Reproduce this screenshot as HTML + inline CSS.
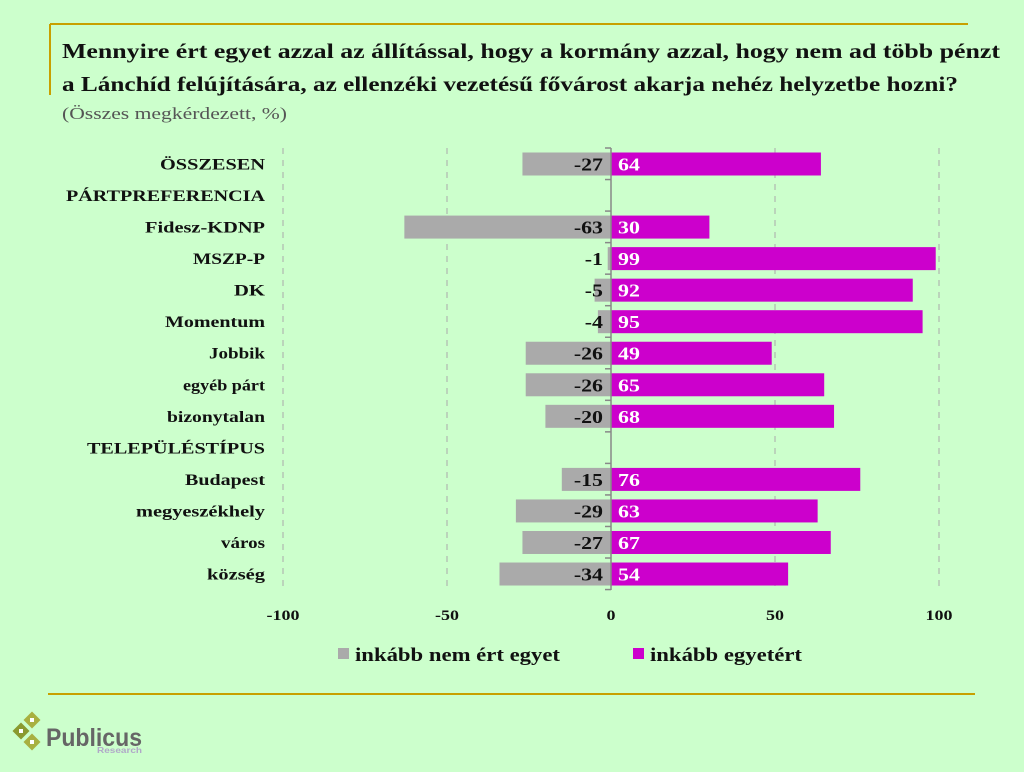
<!DOCTYPE html><html><head><meta charset="utf-8"><style>body{margin:0;background:#ccffcc}svg{display:block}</style></head><body>
<svg width="1024" height="772" xmlns="http://www.w3.org/2000/svg" font-family="Liberation Serif, serif">
<rect width="1024" height="772" fill="#ccffcc"/>
<line x1="50" y1="24" x2="968" y2="24" stroke="#c8a000" stroke-width="2"/>
<line x1="50" y1="24" x2="50" y2="95" stroke="#c8a000" stroke-width="2"/>
<line x1="48" y1="694" x2="975" y2="694" stroke="#c8a000" stroke-width="2"/>
<text x="62" y="58" font-size="21" font-weight="bold" fill="#111" textLength="938" lengthAdjust="spacingAndGlyphs">Mennyire ért egyet azzal az állítással, hogy a kormány azzal, hogy nem ad több pénzt</text>
<text x="62" y="91" font-size="21" font-weight="bold" fill="#111" textLength="896" lengthAdjust="spacingAndGlyphs">a Lánchíd felújítására, az ellenzéki vezetésű fővárost akarja nehéz helyzetbe hozni?</text>
<text x="62" y="119" font-size="17" fill="#555" textLength="225" lengthAdjust="spacingAndGlyphs">(Összes megkérdezett, %)</text>
<g stroke="#aaa" stroke-dasharray="6,6" stroke-width="1">
<line x1="283" y1="148" x2="283" y2="590"/><line x1="447" y1="148" x2="447" y2="590"/><line x1="775" y1="148" x2="775" y2="590"/><line x1="939" y1="148" x2="939" y2="590"/></g>
<g id="bars" font-size="17.5" font-weight="bold"></g>
<line x1="611" y1="148" x2="611" y2="590" stroke="#888" stroke-width="1.5"/>
<g id="ticks" stroke="#888" stroke-width="1.5"></g>
<g font-size="15" font-weight="bold" text-anchor="middle" fill="#111">
<text class="w" x="283" y="620">-100</text><text class="w" x="447" y="620">-50</text><text class="w" x="611" y="620">0</text><text class="w" x="775" y="620">50</text><text class="w" x="939" y="620">100</text></g>
<rect x="338" y="648" width="11" height="11" fill="#aaaaaa"/><text x="355" y="661" font-size="19" font-weight="bold" fill="#111" textLength="205" lengthAdjust="spacingAndGlyphs">inkább nem ért egyet</text>
<rect x="633" y="648" width="11" height="11" fill="#cc00cc"/><text x="650" y="661" font-size="19" font-weight="bold" fill="#111" textLength="152" lengthAdjust="spacingAndGlyphs">inkább egyetért</text>
<g fill="#a8b040"><rect x="26" y="714" width="12" height="12" transform="rotate(45 32 720)"/><rect x="15" y="725" width="12" height="12" transform="rotate(45 21 731)" fill="#8a9a30"/><rect x="26" y="736" width="12" height="12" transform="rotate(45 32 742)"/></g>
<g fill="#fff"><rect x="30" y="718" width="4" height="4"/><rect x="19" y="729" width="4" height="4"/><rect x="30" y="740" width="4" height="4"/></g>
<text x="46" y="746" font-family="Liberation Sans, sans-serif" font-size="25" font-weight="bold" fill="#666" textLength="96" lengthAdjust="spacingAndGlyphs">Publicus</text>
<text x="97" y="753" font-family="Liberation Sans, sans-serif" font-size="8" font-weight="bold" fill="#b0a8c8" textLength="45" lengthAdjust="spacingAndGlyphs">Research</text>
<g id="labels" font-size="16" font-weight="bold" text-anchor="end" fill="#111"></g>
</svg>
<script>
var rows=[["ÖSSZESEN",-27,64,105],["PÁRTPREFERENCIA",0,0,199],["Fidesz-KDNP",-63,30,120],["MSZP-P",-1,99,72],["DK",-5,92,31],["Momentum",-4,95,100],["Jobbik",-26,49,56],["egyéb párt",-26,65,82],["bizonytalan",-20,68,98],["TELEPÜLÉSTÍPUS",0,0,178],["Budapest",-15,76,80],["megyeszékhely",-29,63,129],["város",-27,67,44],["község",-34,54,58]];
var ns="http://www.w3.org/2000/svg",b=document.getElementById("bars"),l=document.getElementById("labels"),tk=document.getElementById("ticks");
function el(p,t,a,txt){var e=document.createElementNS(ns,t);for(var k in a)e.setAttribute(k,a[k]);if(txt!=null)e.textContent=txt;p.appendChild(e);return e;}
function sc(e,f){var w=e.getComputedTextLength();e.setAttribute("textLength",w*f);e.setAttribute("lengthAdjust","spacingAndGlyphs");}
for(var j=0;j<=14;j++){var ty=148+j*31.54;el(tk,"line",{x1:605,y1:ty,x2:611,y2:ty});}
rows.forEach(function(r,i){var y=164+i*31.54;
el(l,"text",{x:265,y:y+5.5,textLength:r[3],lengthAdjust:"spacingAndGlyphs"},r[0]);
if(r[2]==0)return;
var n=-r[1]*3.28,p=r[2]*3.28;
el(b,"rect",{x:611-n,y:y-11.5,width:n,height:23,fill:"#aaaaaa"});
el(b,"rect",{x:611,y:y-11.5,width:p,height:23,fill:"#cc00cc"});
sc(el(b,"text",{x:603,y:y+6.5,"text-anchor":"end",fill:"#111"},r[1]),1.25);
sc(el(b,"text",{x:618,y:y+6.5,fill:"#fff"},r[2]),1.25);});
document.querySelectorAll(".w").forEach(function(e){sc(e,1.2);});
</script>
</body></html>
